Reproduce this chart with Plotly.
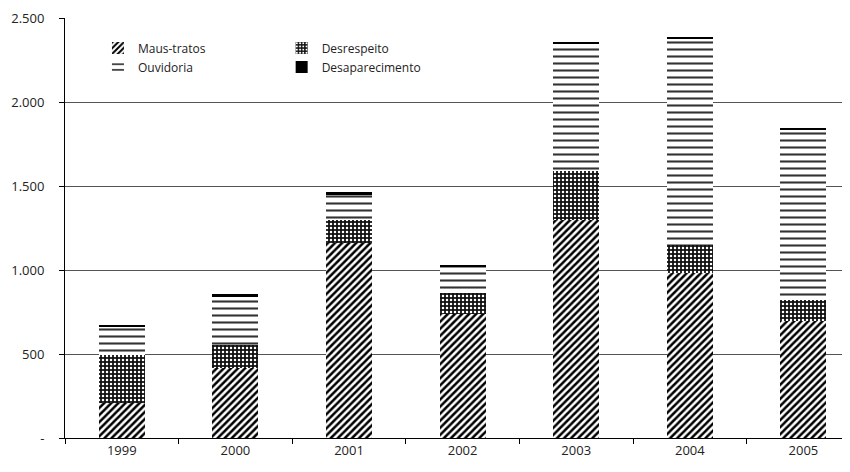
import plotly.graph_objects as go

years = ["1999", "2000", "2001", "2002", "2003", "2004", "2005"]
maus_tratos = [210, 417, 1160, 738, 1298, 982, 696]
desrespeito = [285, 137, 138, 125, 291, 167, 125]
ouvidoria = [167, 291, 154, 155, 761, 1226, 1014]
desaparecimento = [10, 10, 10, 12, 10, 12, 10]

y_tickvals = [0, 500, 1000, 1500, 2000, 2500]
y_ticktext = ["-", "500", "1.000", "1.500", "2.000", "2.500"]

font = "Open Sans"

fig = go.Figure()
fig.add_trace(go.Bar(
    x=years, y=maus_tratos, name="Maus-tratos", legend="legend",
    marker=dict(color="white", line=dict(width=0),
                pattern=dict(shape="/", fgcolor="black", bgcolor="white", size=5, solidity=0.5, fillmode="replace")),
))
fig.add_trace(go.Bar(
    x=years, y=desrespeito, name="Desrespeito", legend="legend2",
    marker=dict(color="black", line=dict(width=0),
                pattern=dict(shape=".", fgcolor="white", bgcolor="#111", size=4, solidity=0.3, fillmode="replace")),
))
fig.add_trace(go.Bar(
    x=years, y=ouvidoria, name="Ouvidoria", legend="legend",
    marker=dict(color="white", line=dict(width=0),
                pattern=dict(shape="-", fgcolor="#333", bgcolor="white", size=7, solidity=0.3, fillmode="replace")),
))
fig.add_trace(go.Bar(
    x=years, y=desaparecimento, name="Desaparecimento", legend="legend2",
    marker=dict(color="black", line=dict(width=0)),
))

fig.update_layout(
    width=842, height=464,
    margin=dict(l=57, r=0, t=10, b=34, autoexpand=False),
    barmode="stack", bargap=0.595,
    plot_bgcolor="white", paper_bgcolor="white",
    font=dict(family=font, size=13, color="#222"),
    showlegend=True,
    legend=dict(x=0.042, y=0.963, xanchor="left", yanchor="top", traceorder="normal",
                font=dict(size=12), bgcolor="rgba(0,0,0,0)", itemwidth=30,
                tracegroupgap=0),
    legend2=dict(x=0.276, y=0.963, xanchor="left", yanchor="top", traceorder="normal",
                 font=dict(size=12), bgcolor="rgba(0,0,0,0)", itemwidth=30,
                 tracegroupgap=0),
)
fig.update_xaxes(
    type="category", range=[-0.5, 6.41], automargin=False,
    showline=True, linecolor="black", linewidth=1,
    ticks="outside", tickson="boundaries", ticklen=5, tickcolor="black",
    showgrid=False, tickfont=dict(size=13),
)
fig.update_yaxes(
    range=[0, 2500], tickvals=y_tickvals, ticktext=y_ticktext, automargin=False,
    showline=True, linecolor="black", linewidth=1,
    ticks="outside", ticklen=5, tickcolor="black",
    showgrid=True, gridcolor="#555", gridwidth=1,
    ticklabelstandoff=12, tickfont=dict(size=13), zeroline=False,
)

fig.write_html("out.html")
